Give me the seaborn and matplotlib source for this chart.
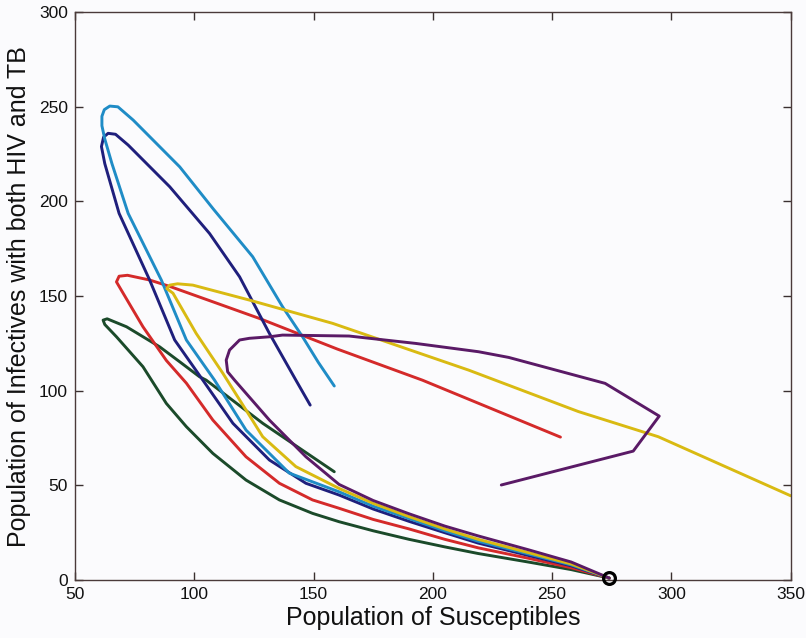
import matplotlib
matplotlib.use("Agg")
import matplotlib.pyplot as plt
import seaborn as sns
import pandas as pd

# Phase-plane trajectories: susceptibles (S) vs. HIV-TB co-infectives
start_point = (274, 1)

green_s = [274, 258, 240, 219, 205, 190, 175, 160.7, 149.6, 135.7, 121.7, 107.8, 96.7, 88.3, 78.5,
           67.4, 62.5, 61.8, 63.5, 71.6, 85.5, 93.9, 102.2, 105, 128.7, 158.7]
green_i = [1, 5.5, 9.5, 14, 17.5, 21.5, 26, 30.8, 35.2, 42.3, 52.8, 66.9, 81, 93.3, 112.7,
           128.5, 135, 137.3, 138, 133.8, 123.2, 115.3, 107.4, 105.6, 82.8, 57.2]

red_s = [274, 258, 240, 219, 205, 190, 175, 160.7, 149.6, 135.7, 121.7, 107.8, 96.7, 88.3, 78.5,
         70.2, 67.4, 68.5, 72, 81.3, 90, 127.3, 160, 195.6, 253.5]
red_i = [1, 6.5, 11.5, 17, 21.5, 27, 32, 37.9, 42.3, 51.1, 65.1, 84.5, 104, 116, 133.8,
         151.5, 157.5, 160.5, 161, 158.5, 155, 138.2, 122, 105.6, 75.5]

navy_s = [274, 258, 240, 219, 205, 190, 175, 160.7, 146.8, 131.5, 116.2, 103.6, 91.8, 81.3, 68.5,
          62.5, 61.1, 62, 63.9, 67, 72.3, 89.7, 106.4, 119, 131.5, 142.6, 148.6]
navy_i = [1, 7.5, 13, 19.5, 25, 31, 37.5, 44.9, 51.1, 63.4, 82.8, 105.6, 126.8, 158.5, 193.7,
          220, 229, 234, 236, 235.5, 229.8, 207.8, 183.1, 160.2, 130.3, 105.6, 92.4]

blue_s = [274, 258, 240, 219, 205, 190, 175, 160.7, 139.8, 121.7, 108.5, 96.7, 86.2, 72.3, 65.5,
          62.5, 61.3, 61.3, 62.3, 64.6, 68, 74.4, 93.9, 108, 124.5, 137, 145.4, 152, 158.7]
blue_i = [1, 8, 13.8, 20.5, 26, 32.5, 39, 46.6, 56.5, 79.2, 105.6, 126.8, 158.5, 193.7, 220,
          233, 240, 245, 248.5, 250.4, 250, 243, 218.3, 196, 170.8, 144.4, 128.5, 115, 102.5]

yellow_s = [274, 258, 240, 219, 205, 190, 175, 160.7, 142.6, 128.7, 121.7, 112, 100.8, 91.1, 88.5,
            89.7, 93, 99.4, 123.1, 158, 215, 261, 294.5, 350]
yellow_i = [1, 8.5, 14.5, 21.5, 27, 33.5, 40.5, 48.4, 59.9, 75.7, 89.8, 109.2, 130.3, 151.5, 154,
            155.8, 156.5, 155.8, 147.9, 135.6, 110.9, 89, 75.7, 44.5]

purple_s = [274, 258, 240, 219, 205, 190, 175, 160.7, 146.8, 131.5, 116.9, 114, 113.4, 114.8, 119,
            123.1, 131.5, 137, 164.9, 192.8, 219.2, 231.8, 272.2, 294.9, 284, 228.7]
purple_i = [1, 9.5, 16, 23.3, 28.5, 35, 42, 50.5, 65.1, 84.5, 105.6, 110, 116.2, 121.5, 126.8,
            127.7, 128.5, 129.4, 128.9, 125, 120.6, 117.6, 103.9, 86.6, 68.1, 50.2]

series = {
    "green": (green_s, green_i, "#1b4a2a"),
    "red": (red_s, red_i, "#d42a2a"),
    "navy": (navy_s, navy_i, "#1f1f7c"),
    "blue": (blue_s, blue_i, "#1f8cc6"),
    "yellow": (yellow_s, yellow_i, "#d9ba12"),
    "purple": (purple_s, purple_i, "#5a1a66"),
}

sns.set_theme(style="white")
plt.rcParams["font.family"] = ["Liberation Sans", "DejaVu Sans"]
plt.rcParams.update({
    "xtick.bottom": True, "xtick.top": True,
    "ytick.left": True, "ytick.right": True,
    "xtick.direction": "in", "ytick.direction": "in",
    "xtick.major.size": 6, "ytick.major.size": 6,
    "xtick.major.width": 1.0, "ytick.major.width": 1.0,
    "xtick.color": "#3a3030", "ytick.color": "#3a3030",
    "xtick.labelcolor": "#111111", "ytick.labelcolor": "#111111",
})

fig = plt.figure(figsize=(8.06, 6.38), dpi=100, facecolor="#fbfbfd")
ax = fig.add_axes([0.093, 0.0909, 0.888, 0.890])
ax.set_facecolor("#fbfbfd")

for name, (s, i, col) in series.items():
    df = pd.DataFrame({"S": s, "I": i})
    sns.lineplot(data=df, x="S", y="I", sort=False, estimator=None,
                 color=col, linewidth=2.1, ax=ax,
                 solid_joinstyle="round", solid_capstyle="round")

ax.plot([start_point[0]], [start_point[1]], marker="o", markersize=8.5,
        markerfacecolor="none", markeredgecolor="black", markeredgewidth=2.3,
        clip_on=False, zorder=5)

ax.set_xlim(50, 350)
ax.set_ylim(0, 300)
ax.set_xticks(range(50, 351, 50))
ax.set_yticks(range(0, 301, 50))
ax.tick_params(labelsize=12.5, pad=5)
for sp in ax.spines.values():
    sp.set_color("#4a3a3a")
    sp.set_linewidth(1.0)

ax.set_xlabel("Population of Susceptibles", fontsize=18, labelpad=3, color="#111111")
ax.set_ylabel("Population of Infectives with both HIV and TB", fontsize=18,
              labelpad=6, color="#111111")

fig.savefig("out.png", dpi=100, facecolor=fig.get_facecolor())
